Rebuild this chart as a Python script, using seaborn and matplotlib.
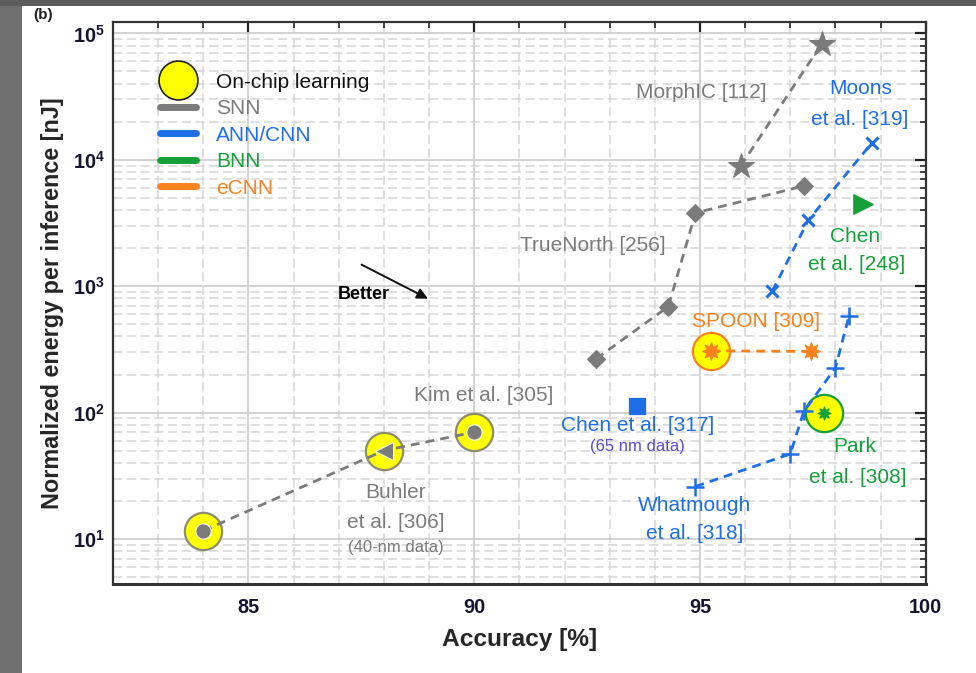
# Energy vs accuracy scatter (log y), recreated with seaborn
import math
import matplotlib
matplotlib.use("Agg")
import matplotlib.pyplot as plt
import seaborn as sns
from matplotlib import font_manager
from matplotlib.lines import Line2D
from matplotlib.patches import Rectangle
from matplotlib.ticker import LogLocator, MultipleLocator, FuncFormatter, NullFormatter

# ---- data ----
snn_low_x = [84.0, 88.0, 90.0]
snn_low_y = [11.6, 50, 70]
truenorth_x = [92.7, 94.3, 94.9, 97.3]
truenorth_y = [266, 690, 3800, 6200]
morphic_x = [95.9, 97.7]
morphic_y = [8900, 83000]
moons_x = [96.6, 97.4, 98.8]
moons_y = [910, 3330, 13500]
whatmough_x = [94.9, 97.0, 97.3, 98.0, 98.3]
whatmough_y = [26, 47, 102, 226, 580]
chen317_x = [93.6]
chen317_y = [113]
chen248_x = [98.6]
chen248_y = [4470]
park_x = [97.75]
park_y = [100]
spoon_x = [95.25, 97.45]
spoon_y = [308, 305]
onchip_x = [84.0, 88.0, 90.0, 95.25, 97.75]
onchip_y = [11.6, 50, 70, 308, 100]
onchip_grp = ["SNN", "SNN", "SNN", "eCNN", "BNN"]

legend_labels = ["On-chip learning", "SNN", "ANN/CNN", "BNN", "eCNN"]

GRAY = "#7b7b7b"
BLUE = "#1f6ee6"
GREEN = "#16a03a"
ORANGE = "#f7821e"
YELLOW = "#ffff00"
edge_col = {"SNN": "#8c8c70", "eCNN": ORANGE, "BNN": GREEN}

sns.set_style("white")

names = {f.name for f in font_manager.fontManager.ttflist}
if "Liberation Sans Narrow" in names:
    NARROW = "Liberation Sans Narrow"
    k = 1.0
else:
    NARROW = "Liberation Sans"
    k = 0.84
plt.rcParams["font.family"] = ["Liberation Sans", "DejaVu Sans"]
plt.rcParams["mathtext.fontset"] = "custom"
plt.rcParams["mathtext.rm"] = NARROW + ":bold"
plt.rcParams["mathtext.it"] = NARROW + ":bold"
plt.rcParams["mathtext.bf"] = NARROW + ":bold"

fig = plt.figure(figsize=(9.76, 6.73), dpi=100)
ax = fig.add_axes([0.1158, 0.1322, 0.8327, 0.8351])

# on-chip learning (big yellow circles, drawn first)
for g in ["SNN", "eCNN", "BNN"]:
    xs = [x for x, gg in zip(onchip_x, onchip_grp) if gg == g]
    ys = [y for y, gg in zip(onchip_y, onchip_grp) if gg == g]
    sns.scatterplot(x=xs, y=ys, ax=ax, s=720, color=YELLOW, edgecolor=edge_col[g],
                    linewidth=1.6, zorder=3, legend=False)

dash = dict(linestyle=(0, (3.2, 2.2)), linewidth=2.0, estimator=None, sort=False, zorder=4)

# SNN
sns.lineplot(x=snn_low_x, y=snn_low_y, ax=ax, color=GRAY, **dash)
sns.lineplot(x=[84.0, 90.0], y=[11.6, 70], ax=ax, color=GRAY, marker="o", markersize=11,
             linestyle="none", estimator=None, sort=False, zorder=5)
sns.lineplot(x=[88.0], y=[50], ax=ax, color=GRAY, marker="<", markersize=13,
             linestyle="none", estimator=None, zorder=5)
sns.lineplot(x=truenorth_x, y=truenorth_y, ax=ax, color=GRAY, marker="D", markersize=9,
             markeredgecolor=GRAY, **dash)
sns.lineplot(x=morphic_x, y=morphic_y, ax=ax, color=GRAY, marker="*", markersize=19,
             markeredgecolor=GRAY, **dash)

# ANN/CNN
sns.lineplot(x=moons_x, y=moons_y, ax=ax, color=BLUE, marker="x", markersize=8,
             markeredgewidth=2.2, markeredgecolor=BLUE, **dash)
sns.lineplot(x=whatmough_x, y=whatmough_y, ax=ax, color=BLUE, marker="+", markersize=13,
             markeredgewidth=1.8, markeredgecolor=BLUE, **dash)
sns.scatterplot(x=chen317_x, y=chen317_y, ax=ax, marker="s", s=130, color=BLUE,
                edgecolor=BLUE, zorder=5, legend=False)

# BNN
sns.scatterplot(x=chen248_x, y=chen248_y, ax=ax, marker=">", s=190, color=GREEN,
                edgecolor=GREEN, zorder=5, legend=False)
sns.scatterplot(x=park_x, y=park_y, ax=ax, marker=(8, 1, 0), s=90, color=GREEN,
                edgecolor=GREEN, zorder=5, legend=False)

# eCNN
sns.lineplot(x=spoon_x, y=spoon_y, ax=ax, color=ORANGE, marker=(8, 1, 0), markersize=13,
             markeredgecolor=ORANGE, **dash)

ax.set_yscale("log")
ax.set_xlim(82, 100)
ax.set_ylim(4.4, 1.23e5)

ax.xaxis.set_major_locator(MultipleLocator(5))
ax.xaxis.set_minor_locator(MultipleLocator(1))
ax.yaxis.set_major_locator(LogLocator(base=10, numticks=10))
ax.yaxis.set_minor_locator(LogLocator(base=10, subs=range(2, 10), numticks=20))
ax.yaxis.set_minor_formatter(NullFormatter())
ax.yaxis.set_major_formatter(FuncFormatter(lambda v, p: r"$10^{%d}$" % round(math.log10(v))))
ax.set_xticks([85, 90, 95, 100])

ax.grid(which="major", color="#cfcfcf", linewidth=1.3, linestyle="-", zorder=0)
ax.grid(which="minor", color="#d6d6d6", linewidth=1.1, linestyle=(0, (6, 3)), zorder=0)
ax.set_axisbelow(True)

ax.tick_params(which="both", direction="in", top=True, right=True, color="#222222")
ax.tick_params(which="major", length=8, width=1.6)
ax.tick_params(which="minor", length=4, width=1.2)
for lab in ax.get_xticklabels():
    lab.set_family(NARROW)
    lab.set_weight("bold")
ax.tick_params(axis="x", labelsize=17 * k, pad=10, labelcolor="#151530")
ax.tick_params(axis="y", labelsize=17 * k, pad=6, labelcolor="#151530")
for sp in ax.spines.values():
    sp.set_color("#333333")
    sp.set_linewidth(1.6)
ax.spines["bottom"].set_linewidth(2.2)

ax.set_xlabel("Accuracy [%]", family=NARROW, weight="bold", fontsize=21 * k, labelpad=8)
ax.set_ylabel("Normalized energy per inference [nJ]", family=NARROW, weight="bold",
              fontsize=20 * k, labelpad=6)

# annotations
fs = 15
ax.text(95.03, 34300, "MorphIC [112]", color=GRAY, fontsize=fs, ha="center", va="center")
ax.text(98.55, 36300, "Moons", color=BLUE, fontsize=fs, ha="center", va="center")
ax.text(98.53, 21000, "et al. [319]", color=BLUE, fontsize=fs, ha="center", va="center")
ax.text(92.63, 2100, "TrueNorth [256]", color=GRAY, fontsize=fs, ha="center", va="center")
ax.text(98.43, 2480, "Chen", color=GREEN, fontsize=fs, ha="center", va="center")
ax.text(98.47, 1490, "et al. [248]", color=GREEN, fontsize=fs, ha="center", va="center")
ax.text(96.24, 530, "SPOON [309]", color=ORANGE, fontsize=fs, ha="center", va="center")
ax.text(90.2, 136, "Kim et al. [305]", color=GRAY, fontsize=fs, ha="center", va="center")
ax.text(88.26, 23.5, "Buhler", color=GRAY, fontsize=fs, ha="center", va="center")
ax.text(88.26, 13.6, "et al. [306]", color=GRAY, fontsize=fs, ha="center", va="center")
ax.text(88.26, 8.5, "(40-nm data)", color=GRAY, fontsize=12, ha="center", va="center")
ax.text(93.62, 79, "Chen et al. [317]", color=BLUE, fontsize=fs, ha="center", va="center")
ax.text(93.62, 54, "(65 nm data)", color="#5a4ad6", fontsize=12, ha="center", va="center")
ax.text(94.88, 18.5, "Whatmough", color=BLUE, fontsize=fs, ha="center", va="center")
ax.text(94.88, 11.1, "et al. [318]", color=BLUE, fontsize=fs, ha="center", va="center")
ax.text(98.43, 54, "Park", color=GREEN, fontsize=fs, ha="center", va="center")
ax.text(98.5, 30.8, "et al. [308]", color=GREEN, fontsize=fs, ha="center", va="center")
ax.text(87.56, 865, "Better", color="black", fontsize=13, weight="bold", family=NARROW,
        ha="center", va="center")
ax.annotate("", xy=(89.03, 778), xytext=(87.45, 1515),
            arrowprops=dict(arrowstyle="-|>", color="#111111", lw=1.4, mutation_scale=16))

# legend
handles = [
    Line2D([], [], marker="o", linestyle="none", markersize=28, markerfacecolor=YELLOW,
           markeredgecolor="#222222", markeredgewidth=1.2),
    Line2D([], [], color=GRAY, linewidth=5),
    Line2D([], [], color=BLUE, linewidth=5),
    Line2D([], [], color=GREEN, linewidth=5),
    Line2D([], [], color=ORANGE, linewidth=5),
]
leg = ax.legend(handles, legend_labels, loc="upper left", bbox_to_anchor=(0.058, 0.91),
                frameon=False, fontsize=15, handlelength=1.7, handletextpad=1.0,
                labelspacing=0.36, borderpad=0, borderaxespad=0,
                labelcolor=["#111111", GRAY, BLUE, GREEN, ORANGE])

# screenshot frame around the figure
fig.add_artist(Rectangle((0, 0), 22 / 976, 1, transform=fig.transFigure,
                         facecolor="#6f6f6f", edgecolor="none", zorder=10))
fig.add_artist(Rectangle((0, 1 - 6 / 673), 1, 6 / 673, transform=fig.transFigure,
                         facecolor="#5c5c5c", edgecolor="none", zorder=10))
fig.text(0.034, 1 - 15 / 673, "(b)", fontsize=11, weight="bold", va="center", color="#222222")

fig.savefig("out.png", dpi=100)
